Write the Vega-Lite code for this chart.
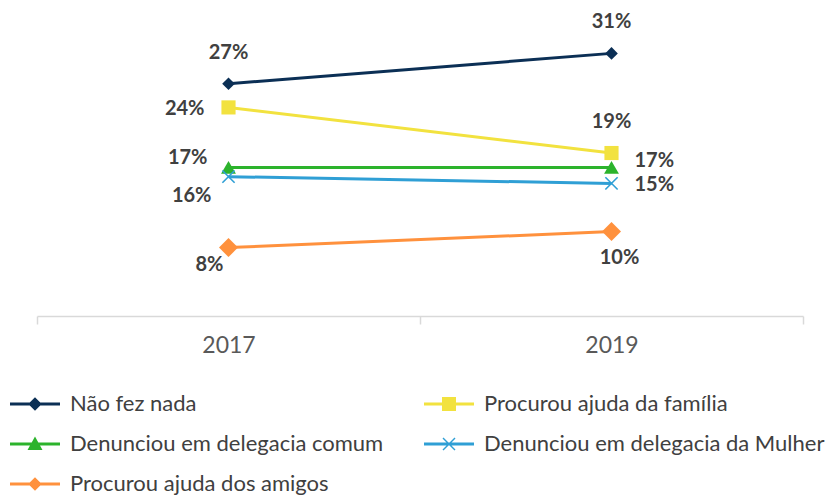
{
  "$schema": "https://vega.github.io/schema/vega-lite/v6.json",
  "width": 766,
  "height": 304,
  "autosize": "none",
  "padding": {"left": 37, "top": 12, "right": 30, "bottom": 179},
  "background": "white",
  "config": {"view": {"stroke": null}, "font": "Lato"},
  "data": {
    "values": [
      {"series": "Não fez nada", "year": "2017", "value": 27.5, "label": "27%"},
      {"series": "Não fez nada", "year": "2019", "value": 31.1, "label": "31%"},
      {"series": "Procurou ajuda da família", "year": "2017", "value": 24.7, "label": "24%"},
      {"series": "Procurou ajuda da família", "year": "2019", "value": 19.3, "label": "19%"},
      {"series": "Denunciou em delegacia comum", "year": "2017", "value": 17.6, "label": "17%"},
      {"series": "Denunciou em delegacia comum", "year": "2019", "value": 17.6, "label": "17%"},
      {"series": "Denunciou em delegacia da Mulher", "year": "2017", "value": 16.5, "label": "16%"},
      {"series": "Denunciou em delegacia da Mulher", "year": "2019", "value": 15.7, "label": "15%"},
      {"series": "Procurou ajuda dos amigos", "year": "2017", "value": 8.1, "label": "8%"},
      {"series": "Procurou ajuda dos amigos", "year": "2019", "value": 10.0, "label": "10%"}
    ]
  },
  "encoding": {
    "x": {
      "field": "year", "type": "ordinal",
      "scale": {"type": "band", "paddingInner": 0, "paddingOuter": 0},
      "axis": {
        "title": null, "labelAngle": 0, "grid": false, "tickBand": "extent",
        "domainColor": "#d9d9d9", "domainWidth": 1.5,
        "tickColor": "#d9d9d9", "tickWidth": 1.5, "tickSize": 8,
        "labelFont": "Lato", "labelFontSize": 23, "labelColor": "#595959", "labelPadding": 10
      }
    },
    "y": {"field": "value", "type": "quantitative", "scale": {"domain": [0, 36]}, "axis": null},
    "color": {
      "field": "series", "type": "nominal",
      "scale": {
        "domain": ["Não fez nada", "Procurou ajuda da família", "Denunciou em delegacia comum", "Denunciou em delegacia da Mulher", "Procurou ajuda dos amigos"],
        "range": ["#0b2f55", "#f2e23f", "#2cb32c", "#2f9fd5", "#ff913d"]
      },
      "legend": {
        "orient": "none", "legendX": -27, "legendY": 367, "columns": 2, "direction": "horizontal", "title": null,
        "symbolSize": 2500, "labelFont": "Lato", "labelFontSize": 22, "labelColor": "#404040",
        "labelOffset": 10, "rowPadding": 4, "columnPadding": 40, "labelLimit": 500,
        "encode": {
          "symbols": {
            "update": {
              "shape": {"signal": "datum.value === 'Procurou ajuda da família' ? 'M-1,-0.06L1,-0.06L1,0.06L-1,0.06ZM-0.28,-0.28L0.28,-0.28L0.28,0.28L-0.28,0.28Z' : datum.value === 'Denunciou em delegacia comum' ? 'M-1,-0.06L1,-0.06L1,0.06L-1,0.06ZM0,-0.3L0.3,0.24L-0.3,0.24Z' : datum.value === 'Denunciou em delegacia da Mulher' ? 'M-1,-0.06L1,-0.06L1,0.06L-1,0.06ZM-0.26,-0.22L-0.22,-0.26L0.26,0.22L0.22,0.26ZM-0.26,0.22L0.22,-0.26L0.26,-0.22L-0.22,0.26Z' : 'M-1,-0.06L1,-0.06L1,0.06L-1,0.06ZM0,-0.27L0.27,0L0,0.27L-0.27,0Z'"},
              "size": {"value": 2500},
              "fill": {"signal": "scale('color', datum.value)"},
              "stroke": {"value": "transparent"},
              "strokeWidth": {"value": 0},
              "opacity": {"value": 1}
            }
          }
        }
      }
    }
  },
  "layer": [
    {"mark": {"type": "line", "strokeWidth": 3}},
    {
      "transform": [{"filter": "datum.series === 'Não fez nada'"}],
      "mark": {"type": "point", "filled": true, "opacity": 1, "shape": "diamond", "size": 160}
    },
    {
      "transform": [{"filter": "datum.series === 'Procurou ajuda da família'"}],
      "mark": {"type": "point", "filled": true, "opacity": 1, "shape": "square", "size": 200}
    },
    {
      "transform": [{"filter": "datum.series === 'Denunciou em delegacia comum'"}],
      "mark": {"type": "point", "filled": true, "opacity": 1, "shape": "triangle-up", "size": 220}
    },
    {
      "transform": [{"filter": "datum.series === 'Denunciou em delegacia da Mulher'"}],
      "mark": {"type": "point", "filled": false, "opacity": 1, "shape": "M-1,-1L1,1M-1,1L1,-1", "size": 150, "strokeWidth": 1.6}
    },
    {
      "transform": [{"filter": "datum.series === 'Procurou ajuda dos amigos'"}],
      "mark": {"type": "point", "filled": true, "opacity": 1, "shape": "diamond", "size": 360}
    },
    {
      "transform": [{"filter": "datum.series === 'Não fez nada' || (datum.series === 'Procurou ajuda da família' && datum.year === '2019')"}],
      "mark": {"type": "text", "font": "Lato", "fontWeight": "bold", "fontSize": 20, "align": "center", "baseline": "middle", "dy": -31},
      "encoding": {"text": {"field": "label"}, "color": {"value": "#404040"}}
    },
    {
      "transform": [{"filter": "datum.series === 'Procurou ajuda da família' && datum.year === '2017'"}],
      "mark": {"type": "text", "font": "Lato", "fontWeight": "bold", "fontSize": 20, "align": "right", "baseline": "middle", "dx": -24, "dy": 2},
      "encoding": {"text": {"field": "label"}, "color": {"value": "#404040"}}
    },
    {
      "transform": [{"filter": "datum.series === 'Denunciou em delegacia comum' && datum.year === '2017'"}],
      "mark": {"type": "text", "font": "Lato", "fontWeight": "bold", "fontSize": 20, "align": "right", "baseline": "middle", "dx": -21, "dy": -9},
      "encoding": {"text": {"field": "label"}, "color": {"value": "#404040"}}
    },
    {
      "transform": [{"filter": "datum.series === 'Denunciou em delegacia da Mulher' && datum.year === '2017'"}],
      "mark": {"type": "text", "font": "Lato", "fontWeight": "bold", "fontSize": 20, "align": "right", "baseline": "middle", "dx": -17, "dy": 19},
      "encoding": {"text": {"field": "label"}, "color": {"value": "#404040"}}
    },
    {
      "transform": [{"filter": "datum.series === 'Procurou ajuda dos amigos' && datum.year === '2017'"}],
      "mark": {"type": "text", "font": "Lato", "fontWeight": "bold", "fontSize": 20, "align": "right", "baseline": "middle", "dx": -5, "dy": 17},
      "encoding": {"text": {"field": "label"}, "color": {"value": "#404040"}}
    },
    {
      "transform": [{"filter": "datum.series === 'Denunciou em delegacia comum' && datum.year === '2019'"}],
      "mark": {"type": "text", "font": "Lato", "fontWeight": "bold", "fontSize": 20, "align": "left", "baseline": "middle", "dx": 23, "dy": -6},
      "encoding": {"text": {"field": "label"}, "color": {"value": "#404040"}}
    },
    {
      "transform": [{"filter": "datum.series === 'Denunciou em delegacia da Mulher' && datum.year === '2019'"}],
      "mark": {"type": "text", "font": "Lato", "fontWeight": "bold", "fontSize": 20, "align": "left", "baseline": "middle", "dx": 23, "dy": 2},
      "encoding": {"text": {"field": "label"}, "color": {"value": "#404040"}}
    },
    {
      "transform": [{"filter": "datum.series === 'Procurou ajuda dos amigos' && datum.year === '2019'"}],
      "mark": {"type": "text", "font": "Lato", "fontWeight": "bold", "fontSize": 20, "align": "center", "baseline": "middle", "dx": 8, "dy": 26},
      "encoding": {"text": {"field": "label"}, "color": {"value": "#404040"}}
    }
  ]
}
